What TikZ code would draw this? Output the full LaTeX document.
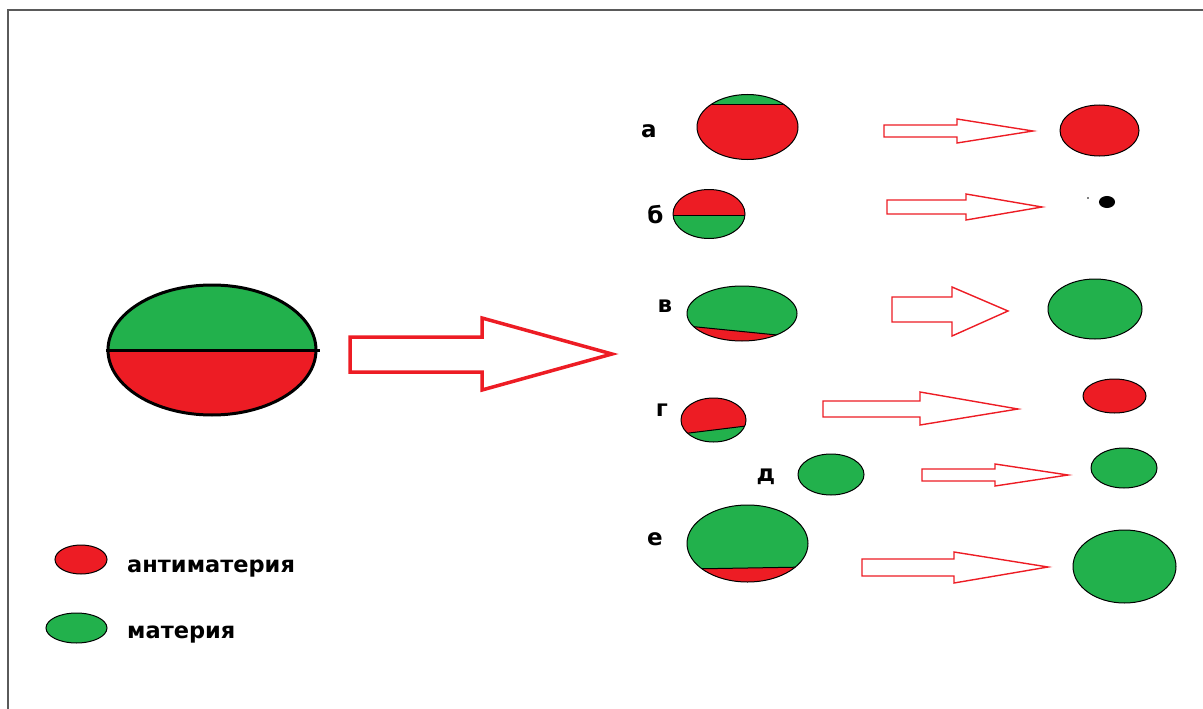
\documentclass[tikz,border=0pt]{standalone}
\usepackage{fontspec}
\setmainfont{DejaVu Sans}
\usetikzlibrary{shapes.geometric}

\definecolor{anti}{RGB}{237,28,36}
\definecolor{matter}{RGB}{34,177,76}
\definecolor{framegray}{RGB}{90,90,90}

\tikzset{
  ball/.style={draw=black, line width=1pt, ellipse, inner sep=0pt},
  letter/.style={font=\fontsize{23}{27}\selectfont\bfseries, inner sep=0pt},
  legendtext/.style={font=\fontsize{22.5}{27}\selectfont\bfseries, anchor=west, inner sep=0pt},
  thinarrow/.style={draw=anti, line width=1.4pt, line join=miter},
  bigarrow/.style={draw=anti, line width=3.5pt, line join=miter}
}

% ball cut by a chord: name, cx, cy, rx, ry, top colour, bottom colour, chord y left, chord y right
\newcommand{\splitball}[9]{%
  \begin{scope}
    \clip (#2,#3) ellipse ({#4} and {#5});
    \fill[#6] (#2-#4,#3-#5) rectangle (#2+#4,#3+#5);
    \fill[#7] (#2-#4,#8) -- (#2+#4,#9) -- (#2+#4,#3+#5) -- (#2-#4,#3+#5) -- cycle;
    \draw[line width=1pt] (#2-#4,#8) -- (#2+#4,#9);
  \end{scope}
  \node[ball, minimum width=2*#4, minimum height=2*#5] (#1) at (#2,#3) {};
}

% block arrow: shaft x, shaft top, shaft bottom, head x, head top, head bottom, tip x, tip y
\newcommand{\blockarrow}[9][]{%
  \draw[#1] (#2,#3) -- (#5,#3) -- (#5,#6) -- (#8,#9) -- (#5,#7) -- (#5,#4) -- (#2,#4) -- cycle;
}

\begin{document}
\begin{tikzpicture}[x=1pt,y=-1pt]
\useasboundingbox (0,0) rectangle (1203,709);

% frame
\draw[framegray, line width=1.5pt] (8,709) -- (8,10) -- (1203,10);

% the big ball
\begin{scope}
  \clip (212,350) ellipse (104 and 65);
  \fill[matter] (100,280) rectangle (320,350);
  \fill[anti] (100,350) rectangle (320,420);
\end{scope}
\node[ball, line width=3pt, minimum width=208, minimum height=130] (s0) at (212,350) {};
\draw[line width=3pt] (106,350) -- (320,350);

\blockarrow[bigarrow]{350}{337}{372}{482}{318}{390}{612}{354}

% row a
\node[letter] (la) at (649,131) {а};
\splitball{a1}{747.5}{127}{50.5}{32.5}{matter}{anti}{105}{105}
\blockarrow[thinarrow]{884}{125}{137}{957}{119}{143}{1033}{131}
\node[ball, fill=anti, minimum width=79, minimum height=51] (a2) at (1099.5,130.5) {};

% row b
\node[letter] (lb) at (655.5,215) {б};
\splitball{b1}{709}{214}{36}{24.5}{anti}{matter}{215}{215}
\blockarrow[thinarrow]{887}{200}{214}{966}{194}{220}{1042}{207}
\node[ball, fill=black, minimum width=15, minimum height=11] (b2) at (1107,202) {};
\fill (1088,198) circle (0.8);

% row v
\node[letter] (lv) at (665,306) {в};
\splitball{v1}{742}{313.5}{55}{27.5}{matter}{anti}{326}{337}
\blockarrow[thinarrow]{892}{297}{322}{952}{287}{336}{1008}{311}
\node[ball, fill=matter, minimum width=94, minimum height=60] (v2) at (1095,309) {};

% row g
\node[letter] (lg) at (662,410) {г};
\splitball{g1}{713.5}{420}{32.5}{22}{anti}{matter}{434}{426}
\blockarrow[thinarrow]{823}{401}{417}{920}{392}{425}{1018}{409}
\node[ball, fill=anti, minimum width=63, minimum height=34] (g2) at (1114.5,396) {};

% row d
\node[letter] (ld) at (766,477) {д};
\node[ball, fill=matter, minimum width=66, minimum height=41] (d1) at (831,474.5) {};
\blockarrow[thinarrow]{922}{469}{481}{995}{464}{486}{1068}{475}
\node[ball, fill=matter, minimum width=66, minimum height=40] (d2) at (1124,468) {};

% row e
\node[letter] (le) at (655,539) {е};
\splitball{e1}{747.5}{543.5}{60.5}{38.5}{matter}{anti}{569}{567}
\blockarrow[thinarrow]{862}{559}{576}{954}{552}{583}{1048}{567}
\node[ball, fill=matter, minimum width=103, minimum height=73] (e2) at (1124.5,566.5) {};

% legend
\node[ball, fill=anti, minimum width=52, minimum height=29] (k1) at (81,559.5) {};
\node[legendtext] (t1) at (127,569) {антиматерия};
\node[ball, fill=matter, minimum width=61, minimum height=30] (k2) at (76.5,628) {};
\node[legendtext] (t2) at (127,635) {материя};
\end{tikzpicture}
\end{document}
